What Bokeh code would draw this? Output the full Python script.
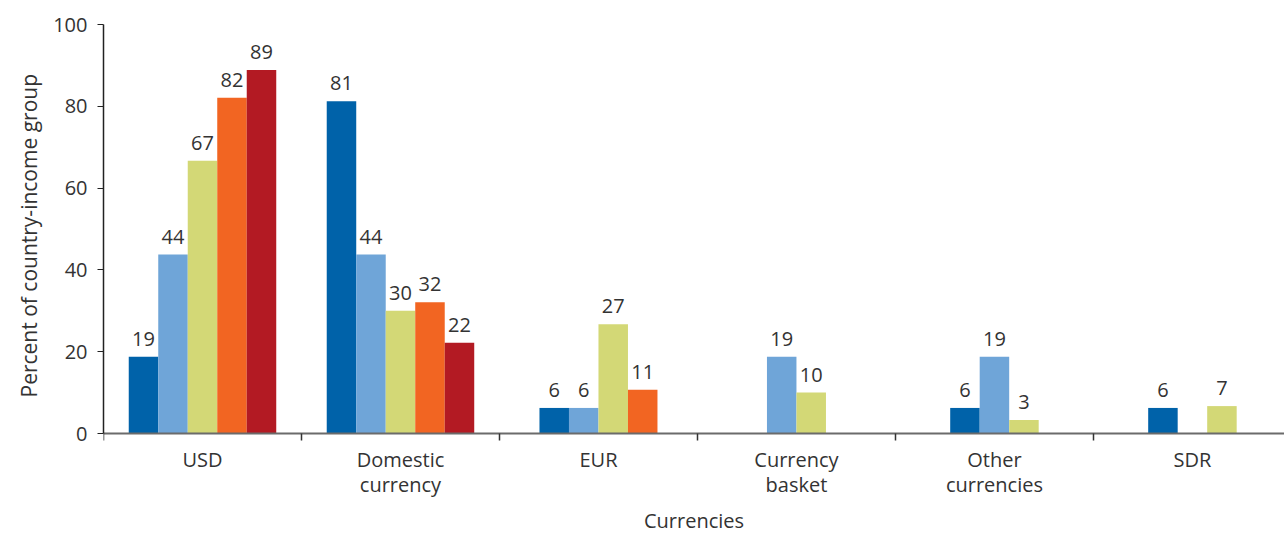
from bokeh.plotting import figure
from bokeh.models import Range1d, FixedTicker, ColumnDataSource, LinearAxis, Title
from bokeh.embed import file_html
from bokeh.resources import INLINE
from bokeh.core.properties import value

categories = ["USD", "Domestic\ncurrency", "EUR", "Currency\nbasket", "Other\ncurrencies", "SDR"]
colors = ["#0062A9", "#6FA5D8", "#D3D876", "#F26522", "#B31A23"]

s1 = [18.75, 81.25, 6.25, 0, 6.25, 6.25]
s2 = [43.75, 43.75, 6.25, 18.75, 18.75, 0]
s3 = [66.7, 30.0, 26.7, 10.0, 3.3, 6.7]
s4 = [82.1, 32.1, 10.7, 0, 0, 0]
s5 = [88.9, 22.2, 0, 0, 0, 0]
series = [s1, s2, s3, s4, s5]

y_ticks = [0, 20, 40, 60, 80, 100]
x_title = "Currencies"
y_title = "Percent of country-income group"

FONT = "Open Sans"
TXT = "#333333"
FS = "20px"
bar_w = 0.149

# frame spans the full height below the top margin; the value axis occupies 0..100,
# the space under 0 holds the category axis (placed at y=0)
H, TOP, BOTTOM_SPACE = 533, 24, 100
plot_px = H - TOP - BOTTOM_SPACE
y_start = -100.0 * BOTTOM_SPACE / plot_px

p = figure(width=1284, height=H, output_backend="svg", toolbar_location=None,
           x_range=Range1d(0, 5.965), y_range=Range1d(y_start, 100),
           min_border_left=103, min_border_right=0, min_border_top=TOP, min_border_bottom=0,
           x_axis_location=None, y_axis_location=None)
p.outline_line_color = None
p.grid.visible = False
p.background_fill_color = None
p.border_fill_color = None

xs, tops, cols, labels = [], [], [], []
for ci in range(len(categories)):
    vals = [s[ci] for s in series]
    nz = [j for j, v in enumerate(vals) if v > 0]
    first, last = nz[0], nz[-1]
    nslots = last - first + 1
    for j in range(first, last + 1):
        if vals[j] <= 0:
            continue
        slot = j - first
        xs.append(ci + 0.5 + (slot - (nslots - 1) / 2) * bar_w)
        tops.append(vals[j])
        cols.append(colors[j])
        labels.append(str(int(round(vals[j]))))

src = ColumnDataSource(dict(x=xs, top=tops, color=cols, label=labels))
p.vbar(x="x", top="top", bottom=0, width=bar_w, fill_color="color", line_color=None, source=src)
p.text(x="x", y="top", text="label", source=src, text_align="center", text_baseline="alphabetic",
       y_offset=-18, text_font=value(FONT), text_font_size=FS, text_color=TXT)

yaxis = LinearAxis(ticker=FixedTicker(ticks=y_ticks), bounds=(0, 100))
yaxis.major_label_text_font = FONT
yaxis.major_label_text_font_size = FS
yaxis.major_label_text_color = TXT
yaxis.major_label_standoff = 10
yaxis.axis_line_color = "#222222"
yaxis.axis_line_width = 1.5
yaxis.major_tick_line_color = "#222222"
yaxis.major_tick_out = 6
yaxis.major_tick_in = 0
yaxis.minor_tick_line_color = None
p.add_layout(yaxis, "left")

ytitle = Title(text=y_title, align="left", offset=136, standoff=16,
               text_font=FONT, text_font_size="21px", text_font_style="normal", text_color=TXT)
p.add_layout(ytitle, "left")

centers = [i + 0.5 for i in range(len(categories))]
bounds = [i for i in range(len(categories) + 1)]
xaxis = LinearAxis(ticker=FixedTicker(ticks=centers, minor_ticks=bounds), fixed_location=0)
xaxis.major_label_overrides = {c: lab for c, lab in zip(centers, categories)}
xaxis.axis_label = x_title
xaxis.axis_label_text_font = FONT
xaxis.axis_label_text_font_style = "normal"
xaxis.axis_label_text_font_size = FS
xaxis.axis_label_text_color = TXT
xaxis.axis_label_standoff = 6
xaxis.major_label_text_font = FONT
xaxis.major_label_text_font_size = FS
xaxis.major_label_text_color = TXT
xaxis.major_label_text_line_height = 0.95
xaxis.major_label_standoff = 5
xaxis.axis_line_color = "#6B6B6B"
xaxis.axis_line_width = 2
xaxis.major_tick_line_color = None
xaxis.major_tick_out = 0
xaxis.major_tick_in = 0
xaxis.minor_tick_line_color = "#333333"
xaxis.minor_tick_line_width = 1.5
xaxis.minor_tick_out = 7
xaxis.minor_tick_in = 0
p.add_layout(xaxis, "below")

open("out.html", "w").write(file_html(p, INLINE))
